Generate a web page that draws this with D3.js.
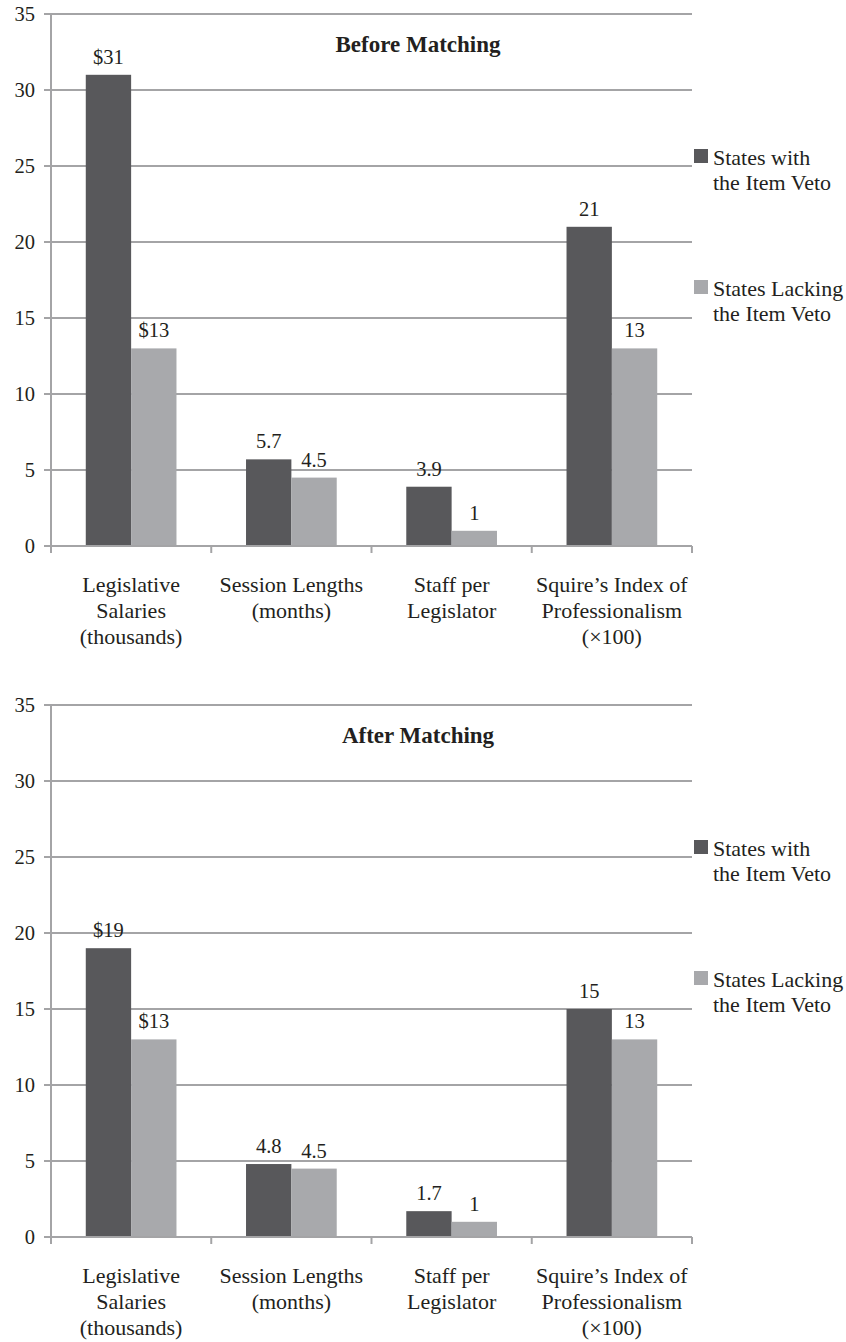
<!DOCTYPE html>
<html>
<head>
<meta charset="utf-8">
<script src="https://cdn.jsdelivr.net/npm/d3@7/dist/d3.min.js"></script>
<style>
  html, body { margin: 0; padding: 0; background: #fff; }
  svg { display: block; }
</style>
</head>
<body>
<svg id="chart" width="846" height="1342" font-family="'Liberation Serif', Tinos, 'Times New Roman', Times, serif" fill="#231f20"></svg>
<script>
// Category labels (multi-line)
const categories = [
  ["Legislative", "Salaries", "(thousands)"],
  ["Session Lengths", "(months)"],
  ["Staff per", "Legislator"],
  ["Squire\u2019s Index of", "Professionalism", "(\u00d7100)"]
];
const seriesNames = ["States with the Item Veto", "States Lacking the Item Veto"];
const legendLines = [["States with", "the Item Veto"], ["States Lacking", "the Item Veto"]];
const valuePrefix = ["$", "", "", ""];

const beforeWith    = [31, 5.7, 3.9, 21];
const beforeLacking = [13, 4.5, 1, 13];
const afterWith     = [19, 4.8, 1.7, 15];
const afterLacking  = [13, 4.5, 1, 13];

const yTicks = [0, 5, 10, 15, 20, 25, 30, 35];

const colors = ["#58585b", "#a8a9ac"];
const gridColor = "#a4a4a6";
const numSize = 20.5;   // tick and value labels
const wordSize = 22;    // category and legend labels

const svg = d3.select("#chart");

function drawPanel(offsetY, title, withVals, lackVals) {
  const g = svg.append("g").attr("transform", `translate(0,${offsetY})`);
  const left = 51, right = 692, top = 14, bottom = 546;

  const y = d3.scaleLinear().domain([0, 35]).range([bottom, top]);
  const x0 = d3.scaleBand().domain(d3.range(categories.length)).range([left, right]).padding(0);
  const bw = x0.bandwidth();
  const x1 = d3.scaleBand().domain([0, 1]).range([bw * 0.217, bw * 0.783]).padding(0);

  // horizontal gridlines with left tick stubs
  g.append("g").selectAll("line").data(yTicks).join("line")
    .attr("x1", left - 7).attr("x2", right)
    .attr("y1", d => y(d)).attr("y2", d => y(d))
    .attr("stroke", gridColor).attr("stroke-width", 2);

  // y tick labels
  g.append("g").selectAll("text").data(yTicks).join("text")
    .attr("x", 35).attr("y", d => y(d) + 7)
    .attr("text-anchor", "end")
    .attr("font-size", numSize)
    .text(d => d);

  // bars
  const rows = categories.map((c, i) => [withVals[i], lackVals[i]]);
  const groups = g.append("g").selectAll("g").data(rows).join("g")
    .attr("transform", (d, i) => `translate(${x0(i)},0)`);
  groups.selectAll("rect").data(d => d).join("rect")
    .attr("x", (d, j) => x1(j))
    .attr("width", x1.bandwidth())
    .attr("y", d => y(d))
    .attr("height", d => y(0) - y(d))
    .attr("fill", (d, j) => colors[j]);

  // value labels
  groups.each(function(d, i) {
    d3.select(this).selectAll("text").data(d).join("text")
      .attr("x", (v, j) => x1(j) + x1.bandwidth() / 2)
      .attr("y", v => y(v) - 11)
      .attr("text-anchor", "middle")
      .attr("font-size", numSize)
      .text(v => valuePrefix[i] + v);
  });

  // axis lines
  g.append("line").attr("x1", left).attr("x2", left).attr("y1", top).attr("y2", bottom)
    .attr("stroke", gridColor).attr("stroke-width", 2);
  g.append("line").attr("x1", left).attr("x2", right).attr("y1", bottom).attr("y2", bottom)
    .attr("stroke", gridColor).attr("stroke-width", 2);

  // category boundary ticks
  const bounds = d3.range(categories.length + 1).map(i => left + i * bw);
  g.append("g").selectAll("line").data(bounds).join("line")
    .attr("x1", d => d).attr("x2", d => d)
    .attr("y1", bottom).attr("y2", bottom + 7)
    .attr("stroke", gridColor).attr("stroke-width", 2);

  // category labels
  const cat = g.append("g").selectAll("text").data(categories).join("text")
    .attr("text-anchor", "middle")
    .attr("font-size", wordSize)
    .attr("x", (d, i) => x0(i) + bw / 2)
    .attr("y", bottom + 46);
  cat.selectAll("tspan").data(d => d).join("tspan")
    .attr("x", function() { return d3.select(this.parentNode).attr("x"); })
    .attr("dy", (d, k) => k === 0 ? 0 : 26)
    .text(d => d);

  // title
  g.append("text")
    .attr("x", 418).attr("y", 52)
    .attr("text-anchor", "middle")
    .attr("font-size", 23)
    .attr("font-weight", "bold")
    .text(title);

  // legend
  const legendY = [149, 280];
  const lg = g.append("g").selectAll("g").data(seriesNames).join("g")
    .attr("transform", (d, j) => `translate(694,${legendY[j]})`);
  lg.append("rect").attr("width", 14).attr("height", 14).attr("fill", (d, j) => colors[j]);
  const lt = lg.append("text").attr("x", 19).attr("y", 16).attr("font-size", wordSize);
  lt.selectAll("tspan").data((d, j) => legendLines[j]).join("tspan")
    .attr("x", 19)
    .attr("dy", (d, k) => k === 0 ? 0 : 25)
    .text(d => d);
}

drawPanel(0, "Before Matching", beforeWith, beforeLacking);
drawPanel(691, "After Matching", afterWith, afterLacking);
</script>
</body>
</html>
